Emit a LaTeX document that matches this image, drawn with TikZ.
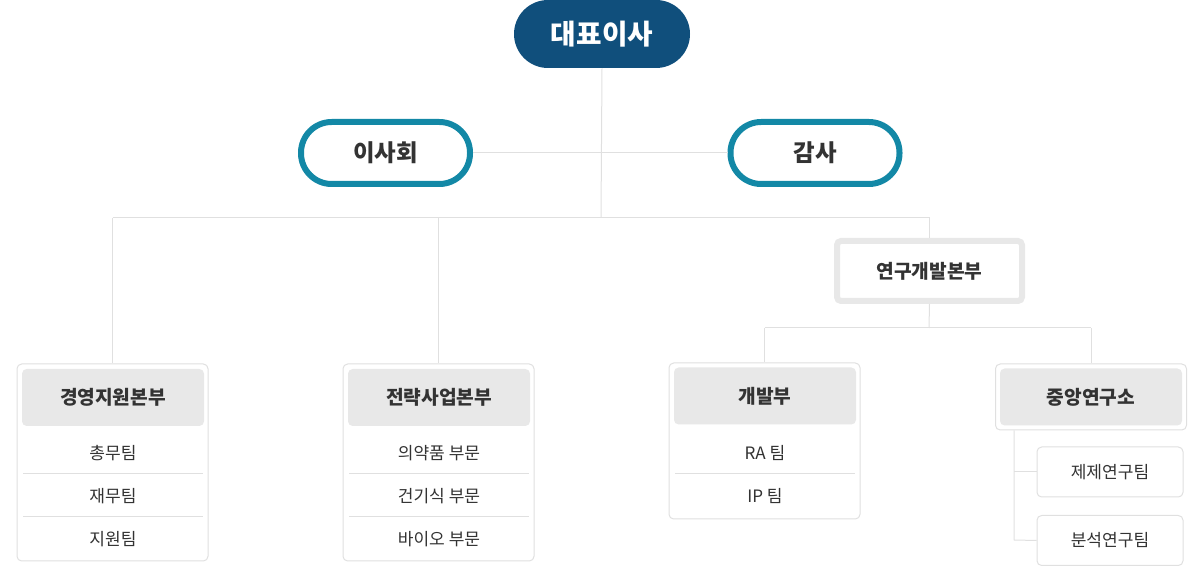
\documentclass[tikz,border=0pt]{standalone}
\usepackage{fontspec}
\setmainfont{Noto Sans CJK KR}
\definecolor{ceoblue}{RGB}{16,79,124}
\definecolor{teal}{RGB}{19,136,166}
\definecolor{linegray}{RGB}{224,224,224}
\definecolor{headgray}{RGB}{232,232,232}
\definecolor{txt}{RGB}{51,51,51}
\begin{document}
\begin{tikzpicture}[x=0.75pt,y=0.75pt,yscale=-1,xscale=1,
        conn/.style={draw=linegray,line width=0.75pt},
        pillbox/.style={draw=teal,line width=4.5pt,fill=white,rounded corners=23pt,minimum width=126.75pt,minimum height=46.5pt,text=txt,font=\fontsize{17.6pt}{19pt}\selectfont\bfseries},
        divbox/.style={draw=linegray,line width=0.75pt,fill=white,rounded corners=3.5pt,minimum width=143.25pt,inner sep=0pt},
        headbox/.style={fill=headgray,rounded corners=3.5pt,minimum width=136.5pt,minimum height=42.75pt,text=txt,font=\fontsize{14.4pt}{16pt}\selectfont\bfseries},
        item/.style={text=txt,font=\fontsize{12.8pt}{14pt}\selectfont},
        subbox/.style={draw=linegray,line width=0.75pt,fill=white,rounded corners=3.5pt,minimum width=109.5pt,minimum height=37.5pt,text=txt,font=\fontsize{12.8pt}{14pt}\selectfont}]
        \useasboundingbox (0,0) rectangle (1204,566);

        %Shape: Outer boxes [id:divisions]
        \node[divbox,minimum height=147.75pt] (div1) at (112.5,462.5) {};
        \node[divbox,minimum height=147.75pt] (div2) at (438.5,462.5) {};
        \node[divbox,minimum height=117pt] (div3) at (764.5,441) {};
        \node[divbox,minimum height=49.5pt] (div4) at (1091,397) {};

        %Straight Lines [id:trunk]
        \coordinate (hub) at (601,218);
        \coordinate (rndhub) at (929,328);
        \coordinate (labhub) at (1014,540);

        %Shape: Pill [id:ceo]
        \node[fill=ceoblue,rounded corners=25.5pt,minimum width=132pt,minimum height=51pt,text=white,font=\fontsize{20.8pt}{22pt}\selectfont\bfseries] (ceo) at (602,34) {대표이사};
        \draw[conn] (ceo.south) -- (hub);

        %Shape: Pill [id:board]
        \node[pillbox] (board) at (385.5,153) {이사회};
        %Shape: Pill [id:audit]
        \node[pillbox] (audit) at (815,153) {감사};
        \draw[conn] (board.east) -- (audit.west);

        %Shape: Rect [id:rnd]
        \node[draw=headgray,line width=4.5pt,fill=white,rounded corners=3pt,minimum width=138.75pt,minimum height=45pt,text=txt,font=\fontsize{14.4pt}{16pt}\selectfont\bfseries] (rnd) at (929.5,271) {연구개발본부};

        %Straight Lines [id:branches]
        \draw[conn] (div1.north |- hub) -- (rnd.north |- hub);
        \draw[conn] (div1.north |- hub) -- (div1.north);
        \draw[conn] (div2.north |- hub) -- (div2.north);
        \draw[conn] (rnd.north |- hub) -- (rnd.north);
        \draw[conn] (rnd.south) -- (rndhub);
        \draw[conn] (div3.north |- rndhub) -- (div4.north |- rndhub);
        \draw[conn] (div3.north |- rndhub) -- (div3.north);
        \draw[conn] (div4.north |- rndhub) -- (div4.north);

        %Shape: Headers [id:heads]
        \node[headbox] (head1) at (113,397.5) {경영지원본부};
        \node[headbox] (head2) at (439,397.5) {전략사업본부};
        \node[headbox] (head3) at (765,396) {개발부};
        \node[headbox] (head4) at (1091,397) {중앙연구소};

        %Text [id:items]
        \node[item] (t11) at (113,453) {총무팀};
        \node[item] (t12) at (113,496) {재무팀};
        \node[item] (t13) at (113,539) {지원팀};
        \node[item] (t21) at (439,453) {의약품 부문};
        \node[item] (t22) at (439,496) {건기식 부문};
        \node[item] (t23) at (439,539) {바이오 부문};
        \node[item] (t31) at (765,453) {RA 팀};
        \node[item] (t32) at (765,496) {IP 팀};

        %Straight Lines [id:separators]
        \draw[conn] (23,474) -- (203,474);
        \draw[conn] (23,517) -- (203,517);
        \draw[conn] (349,474) -- (529,474);
        \draw[conn] (349,517) -- (529,517);
        \draw[conn] (675,474) -- (855,474);

        %Shape: Sub boxes [id:labs]
        \node[subbox] (lab1) at (1110,472) {제제연구팀};
        \node[subbox] (lab2) at (1110,540.5) {분석연구팀};
        \draw[conn] (labhub |- div4.south) -- (labhub) -- (lab2.west);
        \draw[conn] (labhub |- lab1) -- (lab1.west);
\end{tikzpicture}
\end{document}
